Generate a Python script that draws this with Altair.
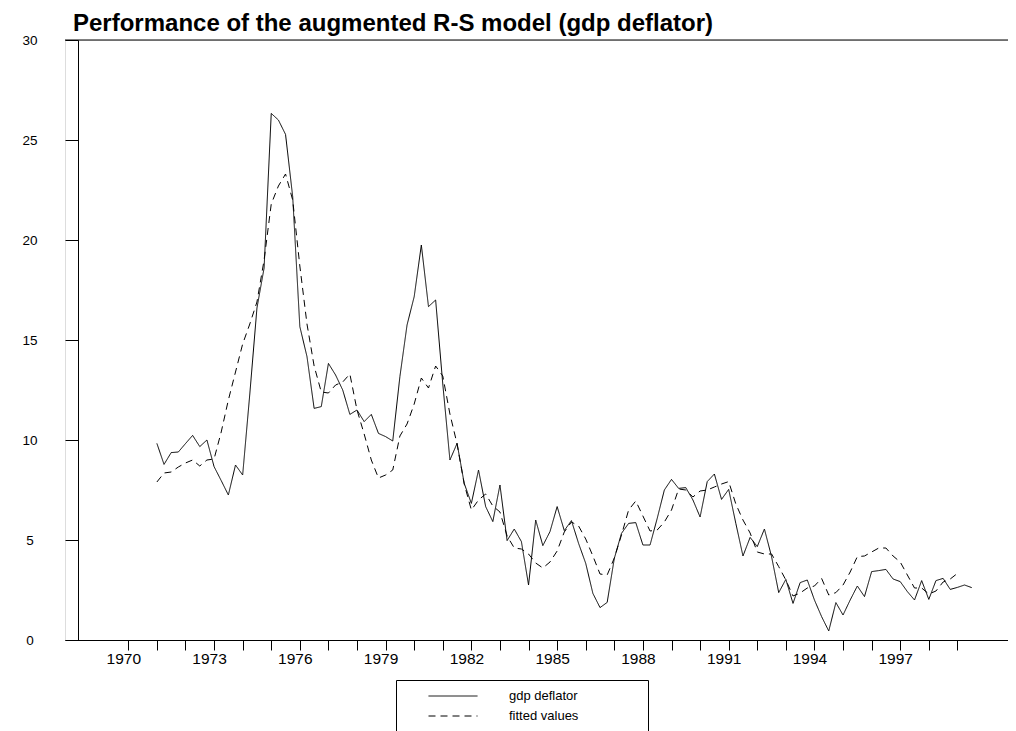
import altair as alt
import pandas as pd

# ---------------- data (quarterly) ----------------
deflator_start = 1971.0
gdp_deflator = [
    9.83, 8.78, 9.37, 9.40, 9.82, 10.23, 9.67, 10.0,
    8.67, 7.97, 7.25, 8.75, 8.25, 12.3, 16.6, 18.6,
    26.33, 26.0, 25.28, 22.17, 15.67, 14.17, 11.58, 11.67,
    13.83, 13.25, 12.5, 11.28, 11.5, 10.92, 11.28, 10.33,
    10.17, 9.95, 13.17, 15.75, 17.17, 19.75, 16.67, 17.0,
    12.8, 9.0, 9.83, 7.83, 6.83, 8.5, 6.67, 5.92,
    7.75, 4.97, 5.55, 4.92, 2.75, 6.0, 4.72, 5.42,
    6.67, 5.47, 5.97, 4.83, 3.83, 2.33, 1.62, 1.88,
    4.08, 5.33, 5.83, 5.87, 4.75, 4.75, 6.08, 7.5,
    8.03, 7.58, 7.62, 7.0, 6.15, 7.92, 8.3, 7.03,
    7.53, 5.83, 4.2, 5.13, 4.67, 5.55, 4.17, 2.37,
    3.03, 1.83, 2.87, 3.0, 2.0, 1.17, 0.45, 1.87,
    1.25, 2.0, 2.7, 2.17, 3.42, 3.47, 3.53, 3.05,
    2.92, 2.42, 2.0, 2.97, 2.03, 2.97, 3.08, 2.53,
    2.63, 2.75, 2.62,
]

fitted_start = 1971.0
fitted_values = [
    7.9, 8.35, 8.4, 8.65, 8.85, 9.0, 8.7, 9.0,
    9.05, 10.4, 12.0, 13.4, 14.8, 15.8, 16.9, 19.0,
    21.8, 22.7, 23.3, 22.0, 18.7, 15.8, 13.7, 12.4,
    12.35, 12.75, 12.9, 13.3, 11.5, 10.3, 9.0, 8.1,
    8.25, 8.5, 10.2, 10.8, 11.8, 13.1, 12.6, 13.7,
    13.2, 11.3, 9.8, 7.8, 6.5, 7.0, 7.3, 6.7,
    6.4, 5.2, 4.6, 4.55, 4.3, 3.85, 3.6, 3.9,
    4.45, 5.4, 5.9, 5.7, 5.05, 4.2, 3.3, 3.25,
    4.1, 5.25, 6.5, 6.95, 6.2, 5.45, 5.5, 5.9,
    6.5, 7.55, 7.5, 7.15, 7.45, 7.5, 7.65, 7.8,
    7.92, 6.8, 6.0, 5.35, 4.4, 4.3, 4.3, 3.67,
    3.0, 2.2, 2.35, 2.6, 2.7, 3.08, 2.25, 2.37,
    2.75, 3.4, 4.17, 4.2, 4.4, 4.6, 4.6, 4.2,
    3.9, 3.25, 2.6, 2.6, 2.3, 2.45, 2.9, 3.05,
    3.33,
]

series_names = ["gdp deflator", "fitted values"]
x_tick_values = [1970 + 0.5 * i for i in range(60)]   # 1970 .. 1999.5
y_tick_values = [0, 5, 10, 15, 20, 25, 30]
title_text = "Performance of the augmented R-S model (gdp deflator)"

rows = []
for i, v in enumerate(gdp_deflator):
    rows.append({"date": deflator_start + 0.25 * i, "value": v, "series": series_names[0]})
for i, v in enumerate(fitted_values):
    rows.append({"date": fitted_start + 0.25 * i, "value": v, "series": series_names[1]})
df = pd.DataFrame(rows)

FONT = "Liberation Sans"
PAD = "\u00a0" * 17 + "\u200b"   # keeps the legend frame as wide as the reference's

x_axis = alt.Axis(
    values=x_tick_values,
    title=None,
    grid=False,
    format="d",
    labelExpr="(datum.value % 3 === 2) ? datum.label : ''",
    labelFont=FONT,
    labelFontSize=15.5,
    labelColor="black",
    labelOffset=-5,
    labelPadding=1,
    labelFlush=False,
    labelOverlap=False,
    domainColor="black",
    domainWidth=1,
    tickColor="black",
    tickWidth=1,
    tickSize={"condition": {"test": "datum.value % 1 === 0", "value": 10}, "value": 5},
)

y_axis = alt.Axis(
    values=y_tick_values,
    title=None,
    grid=False,
    offset=-13,
    tickSize=13,
    tickColor="black",
    tickWidth=1,
    domainColor="black",
    domainWidth=1,
    labelAlign="center",
    labelBaseline="middle",
    labelPadding=35.5,
    labelFont=FONT,
    labelFontSize=13.5,
    labelColor="black",
)

lines = alt.Chart(df).mark_line(color="black", strokeWidth=1).encode(
    x=alt.X("date:Q", scale=alt.Scale(domain=[1967.786, 2000.77], nice=False, zero=False), axis=x_axis),
    y=alt.Y("value:Q", scale=alt.Scale(domain=[0, 30], nice=False, zero=True), axis=y_axis),
    strokeDash=alt.StrokeDash(
        "series:N",
        scale=alt.Scale(domain=series_names, range=[[1, 0], [7, 5]]),
        legend=alt.Legend(
            title=None,
            orient="none",
            legendX=331,
            legendY=640,
            direction="vertical",
            strokeColor="black",
            fillColor="white",
            padding=8,
            symbolType="stroke",
            symbolSize=2401,
            symbolStrokeWidth=1,
            symbolStrokeColor="black",
            symbolOffset=24,
            labelOffset=31,
            clipHeight=16,
            rowPadding=4,
            labelFont=FONT,
            labelFontSize=13,
            labelColor="black",
            labelLimit=300,
            labelExpr="datum.label + '" + PAD + "'",
        ),
    ),
    order=alt.Order("date:Q"),
)

top_line = alt.Chart(pd.DataFrame({"top": [30]})).mark_rule(color="black", strokeWidth=1).encode(
    y=alt.Y("top:Q", axis=y_axis, scale=alt.Scale(domain=[0, 30], nice=False))
)

chart = alt.layer(top_line, lines).properties(
    width=943,
    height=600,
    autosize=alt.AutoSizeParams(type="none"),
    padding={"left": 57, "top": 32, "right": 0, "bottom": 100},
    title=alt.TitleParams(
        text=title_text,
        anchor="start",
        frame="group",
        orient="top",
        font=FONT,
        fontSize=24,
        fontWeight="bold",
        color="black",
        baseline="alphabetic",
        offset=5,
        dx=8,
        dy=26.5,
    ),
).configure_view(strokeWidth=0).configure(background="white")

chart.save("out.html", embed_options={"renderer": "svg", "actions": False})
